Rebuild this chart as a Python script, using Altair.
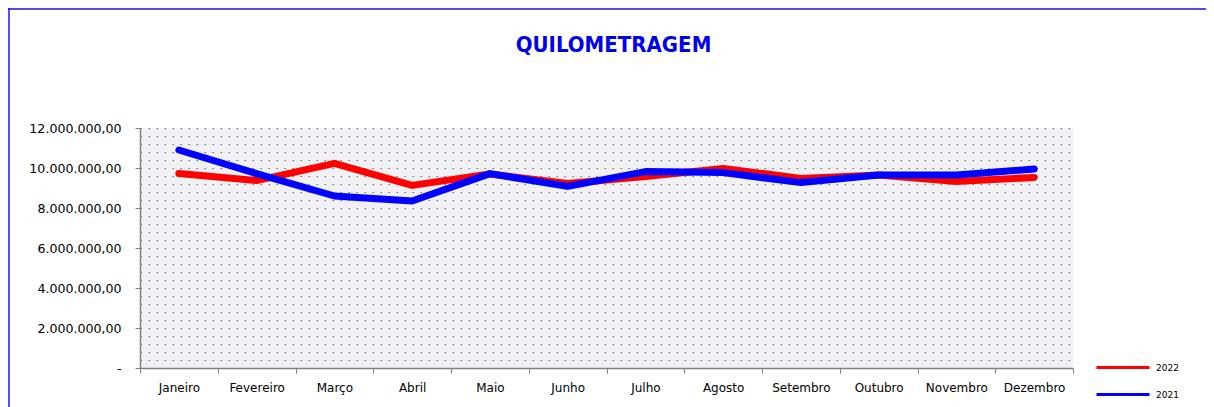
import altair as alt
import pandas as pd

months = ["Janeiro", "Fevereiro", "Março", "Abril", "Maio", "Junho",
          "Julho", "Agosto", "Setembro", "Outubro", "Novembro", "Dezembro"]
km_2022 = [9730000, 9370000, 10230000, 9130000, 9700000, 9230000,
           9570000, 9980000, 9480000, 9650000, 9320000, 9530000]
km_2021 = [10900000, 9720000, 8600000, 8350000, 9720000, 9080000,
           9820000, 9770000, 9270000, 9650000, 9650000, 9950000]
series = ["2022", "2021"]
series_colors = ["#ff0000", "#0000ff"]
y_ticks = [0, 2000000, 4000000, 6000000, 8000000, 10000000, 12000000]
dot_rows = [i * 400000 for i in range(31)]
title_text = "QUILOMETRAGEM"

rows = []
for m, v in zip(months, km_2022):
    rows.append({"Mes": m, "Ano": "2022", "Km": v})
for m, v in zip(months, km_2021):
    rows.append({"Mes": m, "Ano": "2021", "Km": v})
df = pd.DataFrame(rows)

FONT = "DejaVu Sans"
W, H = 933, 240

x_enc = alt.X(
    "Mes:N", sort=months, bandPosition=0.5,
    scale=alt.Scale(type="band", paddingInner=0, paddingOuter=0),
    axis=alt.Axis(title=None, labelAngle=0, tickBand="extent", tickSize=5,
                  tickColor="#808080", domainColor="#808080", domainWidth=1.5,
                  labelFont=FONT, labelFontSize=12, labelColor="#000000",
                  labelPadding=9, grid=False),
)
y_scale = alt.Scale(domain=[0, 12000000], nice=False, zero=True)
color_enc = alt.Color(
    "Ano:N",
    scale=alt.Scale(domain=series, range=series_colors),
    legend=alt.Legend(title=None, orient="none", legendX=988, legendY=228,
                      symbolType="M-4.3,0H1", symbolSize=400, symbolStrokeWidth=3,
                      labelFont=FONT, labelFontSize=9, labelColor="#000000",
                      rowPadding=9, labelOffset=5, padding=0),
)

line_props = dict(strokeWidth=7, strokeCap="round", strokeJoin="round")

red = alt.Chart(df).transform_filter(alt.datum.Ano == "2022").mark_line(**line_props).encode(
    x=x_enc,
    y=alt.Y("Km:Q", scale=y_scale,
            axis=alt.Axis(title=None, orient="left", values=dot_rows, labels=False,
                          ticks=False, domain=False, grid=True, gridColor="#707070",
                          gridDash=[1.5, 6.5], gridWidth=1.2)),
    color=color_enc,
)
blue = alt.Chart(df).transform_filter(alt.datum.Ano == "2021").mark_line(**line_props).encode(
    x=x_enc,
    y=alt.Y("Km:Q", scale=y_scale,
            axis=alt.Axis(title=None, orient="left", values=y_ticks, grid=False,
                          tickSize=5, tickColor="#808080", domainColor="#808080",
                          domainWidth=1.5, labelFont=FONT, labelFontSize=12.6,
                          labelColor="#000000", labelPadding=14,
                          labelExpr="datum.value == 0 ? '-' : replace(replace(replace(format(datum.value, ',.2f'), regexp(',', 'g'), '#'), regexp('[.]', 'g'), ','), regexp('#', 'g'), '.')")),
    color=color_enc,
)

one = alt.Data(values=[{"t": title_text}])
title_mark = alt.Chart(one).mark_text(
    font="DejaVu Sans Condensed", fontSize=22, fontWeight="bold", color="#0000ee",
    align="center", baseline="alphabetic").encode(
    text="t:N", x=alt.value(W / 2 + 7), y=alt.value(-76))
top_line = alt.Chart(one).mark_rule(color="#5050e0", strokeWidth=2).encode(
    x=alt.value(-132), x2=alt.value(1066), y=alt.value(-119))
left_line = alt.Chart(one).mark_rule(color="#1a1ae6", strokeWidth=1.5).encode(
    x=alt.value(-131), y=alt.value(-120), y2=alt.value(290))

chart = alt.layer(red, blue, title_mark, top_line, left_line).resolve_axis(y="independent").properties(
    width=W, height=H,
    autosize=alt.AutoSizeParams(type="none"),
    padding={"left": 132, "top": 120, "right": 133, "bottom": 39},
).configure_view(fill="#f1f1f5", stroke=None)

chart.save("out.html", embed_options={"renderer": "svg", "actions": False})
